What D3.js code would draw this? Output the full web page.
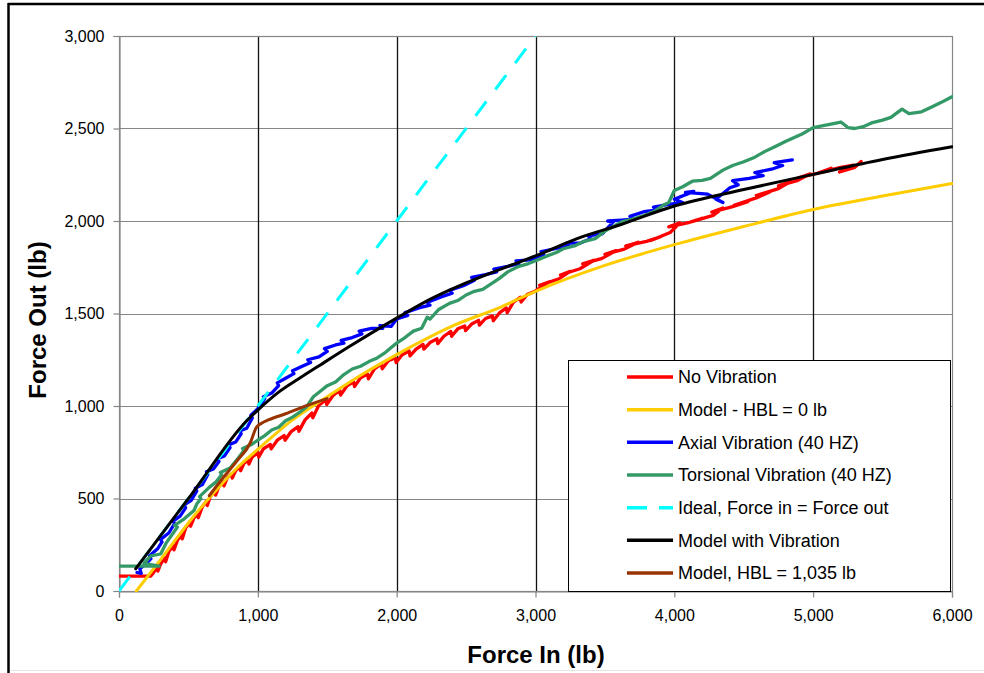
<!DOCTYPE html>
<html>
<head>
<meta charset="utf-8">
<script src="https://cdn.jsdelivr.net/npm/d3@7/dist/d3.min.js"></script>
<style>
  html, body { margin: 0; padding: 0; background: #fff; }
  svg { display: block; font-family: "Liberation Sans", Arial, sans-serif; }
</style>
</head>
<body>
<svg id="chart" width="984" height="673"></svg>
<script>
// Axis ticks
const xTicks = [0, 1000, 2000, 3000, 4000, 5000, 6000];
const yTicks = [0, 500, 1000, 1500, 2000, 2500, 3000];

// Measured: no vibration
const noVibration = [
  [0,80],[228,80],[250,100],[275,130],[280,108],[300,145],[330,180],[336,158],[360,215],[390,245],
  [396,222],[420,272],[450,305],[456,282],[480,340],[510,372],[516,350],[540,395],[565,418],[571,396],
  [600,455],[630,485],[636,462],[660,515],[690,540],[696,518],[720,565],[750,590],[756,568],[780,612],
  [810,632],[816,610],[840,650],[870,672],[876,650],[900,690],[930,708],[936,686],[960,725],[1000,748],
  [1006,724],[1040,768],[1090,792],[1096,768],[1140,815],[1190,840],[1196,815],[1240,862],[1290,888],
  [1296,863],[1340,925],[1390,962],[1396,936],[1440,1005],[1490,1033],[1496,1008],[1540,1055],
  [1590,1085],[1596,1059],[1640,1107],[1690,1130],[1696,1105],[1740,1153],[1790,1173],[1796,1147],
  [1840,1200],[1890,1227],[1896,1201],[1940,1245],[1990,1260],[1996,1235],[2040,1277],[2090,1297],
  [2096,1271],[2140,1307],[2190,1333],[2196,1307],[2240,1343],[2290,1363],[2296,1337],[2340,1377],
  [2390,1403],[2396,1377],[2440,1417],[2490,1433],[2496,1407],[2540,1443],[2590,1463],[2596,1437],
  [2640,1473],[2690,1487],[2696,1461],[2740,1503],[2790,1530],[2796,1504],[2840,1560],[2890,1588],
  [2896,1562],[2940,1602],[3000,1622],[3100,1672],[3030,1652],[3170,1688],[3250,1728],[3180,1708],
  [3320,1742],[3420,1788],[3340,1768],[3480,1798],[3580,1840],[3500,1820],[3640,1848],[3740,1885],
  [3650,1865],[3800,1890],[3900,1915],[3830,1895],[3970,1938],[4040,1990],[3960,1968],[4110,1993],
  [4200,2015],[4120,1995],[4280,2030],[4350,2070],[4270,2048],[4420,2078],[4530,2105],[4430,2085],
  [4590,2125],[4690,2158],[4590,2138],[4750,2175],[4840,2215],[4750,2190],[4890,2220],[4980,2255],
  [4890,2232],[5030,2258],[5130,2285],[5050,2262],[5190,2288],[5290,2302],[5190,2265],[5300,2290],
  [5345,2322]
];

// Model without vibration, HBL = 0 lb
const modelHbl0 = [
  [125,0],[300,170],[550,415],[700,545],[850,665],[1000,765],[1250,925],[1500,1050],[1750,1170],
  [2000,1278],[2400,1432],[2750,1535],[3000,1620],[3500,1760],[4000,1872],[4500,1970],[5000,2062],
  [5500,2135],[6000,2203]
];

// Measured: axial vibration, 40 Hz
const axialVibration = [
  [130,100],[160,95],[150,120],[200,150],[230,175],[220,190],[280,230],[310,265],[300,278],[360,315],
  [400,365],[390,378],[440,405],[480,450],[470,465],[520,490],[560,540],[550,555],[600,575],[640,630],
  [630,645],[680,660],[720,700],[710,715],[760,730],[800,775],[790,790],[840,805],[880,850],[870,865],
  [920,880],[960,935],[950,950],[1000,985],[1050,1040],[1040,1050],[1100,1070],[1150,1110],[1140,1125],
  [1200,1150],[1260,1175],[1250,1190],[1320,1215],[1380,1235],[1360,1250],[1440,1265],[1500,1295],
  [1480,1310],[1560,1330],[1620,1340],[1600,1355],[1680,1370],[1750,1390],[1730,1405],[1820,1420],
  [1900,1420],[1880,1435],[1960,1430],[2000,1470],[2080,1490],[2060,1505],[2160,1530],[2240,1545],
  [2220,1560],[2320,1590],[2400,1610],[2380,1625],[2480,1650],[2560,1680],[2540,1695],[2640,1710],
  [2720,1725],[2700,1740],[2800,1755],[2880,1770],[2860,1785],[2960,1790],[3060,1820],[3040,1835],
  [3140,1850],[3240,1865],[3220,1880],[3320,1880],[3400,1905],[3380,1920],[3480,1930],[3560,1995],
  [3520,2000],[3620,2005],[3700,2010],[3680,2025],[3780,2050],[3880,2060],[3850,2075],[3960,2090],
  [4060,2100],[4000,2118],[4140,2160],[4080,2155],[4240,2145],[4350,2100],[4300,2118],[4400,2180],
  [4460,2195],[4420,2218],[4540,2230],[4640,2245],[4580,2262],[4700,2280],[4780,2300],[4720,2315],
  [4850,2330]
];

// Measured: torsional vibration, 40 Hz
const torsionalVibration = [
  [0,135],[290,135],[180,150],[230,190],[300,200],[340,260],[420,345],[400,355],[470,390],[540,435],
  [560,470],[590,500],[580,510],[650,560],[700,590],[740,630],[730,640],[800,665],[850,710],[900,760],
  [890,770],[950,790],[1000,815],[1050,840],[1100,870],[1150,885],[1200,920],[1250,940],[1300,965],
  [1350,995],[1400,1050],[1450,1080],[1500,1110],[1560,1130],[1620,1170],[1680,1200],[1740,1215],
  [1800,1240],[1860,1260],[1920,1290],[2000,1340],[2060,1370],[2120,1405],[2180,1420],[2220,1480],
  [2240,1470],[2300,1520],[2380,1555],[2440,1570],[2500,1600],[2560,1620],[2620,1630],[2680,1660],
  [2740,1690],[2800,1725],[2880,1755],[2950,1770],[3000,1785],[3080,1810],[3150,1830],[3200,1850],
  [3280,1865],[3350,1890],[3430,1905],[3500,1945],[3560,1970],[3620,1995],[3700,2010],[3780,2030],
  [3850,2050],[3920,2085],[3960,2100],[4000,2165],[4060,2185],[4130,2215],[4200,2220],[4260,2230],
  [4350,2275],[4420,2300],[4500,2320],[4580,2345],[4650,2375],[4720,2400],[4800,2430],[4860,2450],
  [4920,2470],[5000,2505],[5100,2520],[5200,2535],[5250,2505],[5300,2500],[5360,2510],[5420,2530],
  [5500,2545],[5560,2560],[5640,2605],[5690,2580],[5780,2590],[5850,2615],[5920,2640],[6000,2672]
];

// Ideal transmission, force in = force out
const ideal = [[0,0],[3000,3000]];

// Model including vibration
const modelVibration = [
  [120,120],[520,520],[920,920],[1000,978],[1150,1075],[1300,1150],[1450,1222],[1665,1324],[2000,1475],
  [2250,1580],[2500,1665],[2750,1740],[3000,1811],[3300,1905],[3600,1977],[4000,2081],[4500,2170],
  [5000,2252],[5500,2332],[6000,2401]
];

// Model, HBL = 1,035 lb
const modelHbl1035 = [
  [650,515],[750,612],[850,703],[945,800],[990,885],[1030,908],[1080,926],[1200,958],[1350,1002],[1500,1040]
];

const seriesNames = [
  "No Vibration", "Model - HBL = 0 lb", "Axial Vibration (40 HZ)", "Torsional Vibration (40 HZ)",
  "Ideal, Force in = Force out", "Model with Vibration", "Model, HBL = 1,035 lb"
];
const seriesColors = ["#ff0000", "#ffcc00", "#0000ff", "#339966", "#00ffff", "#000000", "#993300"];

const series = [
  { name: seriesNames[0], color: seriesColors[0], data: noVibration, smooth: false },
  { name: seriesNames[1], color: seriesColors[1], data: modelHbl0, smooth: true },
  { name: seriesNames[2], color: seriesColors[2], data: axialVibration, smooth: false },
  { name: seriesNames[3], color: seriesColors[3], data: torsionalVibration, smooth: false },
  { name: seriesNames[4], color: seriesColors[4], data: ideal, smooth: false, dash: "18,15" },
  { name: seriesNames[5], color: seriesColors[5], data: modelVibration, smooth: true },
  { name: seriesNames[6], color: seriesColors[6], data: modelHbl1035, smooth: true }
];

const svg = d3.select("#chart");
const W = 984, H = 673;
const plot = { left: 119, right: 952, top: 36, bottom: 591 };

// Outer frame
svg.append("rect").attr("width", W).attr("height", H).attr("fill", "#fff");
svg.append("line").attr("x1", 8).attr("x2", W).attr("y1", 4).attr("y2", 4)
  .attr("stroke", "#000").attr("stroke-width", 2.5);
svg.append("line").attr("x1", 8.5).attr("x2", 8.5).attr("y1", 3).attr("y2", H)
  .attr("stroke", "#000").attr("stroke-width", 2.5);
svg.append("line").attr("x1", 10).attr("x2", W).attr("y1", 670.5).attr("y2", 670.5)
  .attr("stroke", "#e4e4e4").attr("stroke-width", 1);

const x = d3.scaleLinear().domain([0, 6000]).range([plot.left, plot.right]);
const y = d3.scaleLinear().domain([0, 3000]).range([plot.bottom, plot.top]);
const fmt = d3.format(",");

// Horizontal gridlines (gray)
svg.append("g").selectAll("line").data(yTicks.filter(d => d > 0)).join("line")
  .attr("x1", plot.left).attr("x2", plot.right)
  .attr("y1", d => Math.round(y(d)) + 0.5).attr("y2", d => Math.round(y(d)) + 0.5)
  .attr("stroke", "#868686").attr("stroke-width", 1.2);

// Vertical gridlines (dark)
svg.append("g").selectAll("line").data(xTicks.filter(d => d > 0 && d < 6000)).join("line")
  .attr("x1", d => Math.round(x(d)) + 0.5).attr("x2", d => Math.round(x(d)) + 0.5)
  .attr("y1", plot.top).attr("y2", plot.bottom)
  .attr("stroke", "#111").attr("stroke-width", 1.3);

// Plot border
svg.append("rect")
  .attr("x", plot.left + 0.5).attr("y", plot.top + 0.5)
  .attr("width", plot.right - plot.left).attr("height", plot.bottom - plot.top)
  .attr("fill", "none").attr("stroke", "#868686").attr("stroke-width", 1.2);

// Axes
const yAxis = d3.axisLeft(y).tickValues(yTicks).tickFormat(fmt).tickSize(6).tickPadding(9);
const xAxis = d3.axisBottom(x).tickValues(xTicks).tickFormat(fmt).tickSize(6).tickPadding(12);

const gy = svg.append("g").attr("transform", `translate(${plot.left + 0.5},0)`).call(yAxis);
const gx = svg.append("g").attr("transform", `translate(0,${plot.bottom + 0.5})`).call(xAxis);
[gx, gy].forEach(g => {
  g.select(".domain").attr("stroke", "#868686").attr("stroke-width", 1.2);
  g.selectAll(".tick line").attr("stroke", "#868686").attr("stroke-width", 1.2);
  g.selectAll(".tick text").attr("fill", "#000").style("font-size", "16px")
    .style("font-family", "'Liberation Sans', Arial, sans-serif");
});

// Axis titles
svg.append("text").attr("x", 536).attr("y", 663).attr("text-anchor", "middle")
  .style("font-size", "24px").style("font-weight", "bold").text("Force In (lb)");
svg.append("text").attr("transform", "translate(46,320) rotate(-90)").attr("text-anchor", "middle")
  .style("font-size", "24px").style("font-weight", "bold").text("Force Out (lb)");

// Series
svg.append("clipPath").attr("id", "plotClip").append("rect")
  .attr("x", plot.left).attr("y", plot.top)
  .attr("width", plot.right - plot.left + 1).attr("height", plot.bottom - plot.top + 1);

const lineLinear = d3.line().x(d => x(d[0])).y(d => y(d[1]));
const lineSmooth = d3.line().x(d => x(d[0])).y(d => y(d[1])).curve(d3.curveMonotoneX);

const gSeries = svg.append("g").attr("clip-path", "url(#plotClip)");
series.forEach(s => {
  gSeries.append("path")
    .attr("d", (s.smooth ? lineSmooth : lineLinear)(s.data))
    .attr("fill", "none")
    .attr("stroke", s.color)
    .attr("stroke-width", s.smooth || s.dash ? 3 : 3.3)
    .attr("stroke-linejoin", "round")
    .attr("stroke-linecap", s.dash ? "butt" : "round")
    .attr("stroke-dasharray", s.dash || null);
});

// Legend
const lg = { x: 568, y: 360, w: 382, h: 231 };
const legend = svg.append("g");
legend.append("rect").attr("x", lg.x + 0.5).attr("y", lg.y + 0.5)
  .attr("width", lg.w).attr("height", lg.h)
  .attr("fill", "#fff").attr("stroke", "#000").attr("stroke-width", 1);
const rowY = d3.scaleLinear().domain([0, 6]).range([377, 573]);
series.forEach((s, i) => {
  const cy = rowY(i);
  legend.append("line")
    .attr("x1", 627).attr("x2", 673).attr("y1", cy).attr("y2", cy)
    .attr("stroke", s.color).attr("stroke-width", 3.5)
    .attr("stroke-dasharray", s.dash ? "20,12" : null);
  legend.append("text").attr("x", 678).attr("y", cy).attr("dy", "0.36em")
    .style("font-size", "18px").text(s.name);
});
</script>
</body>
</html>
